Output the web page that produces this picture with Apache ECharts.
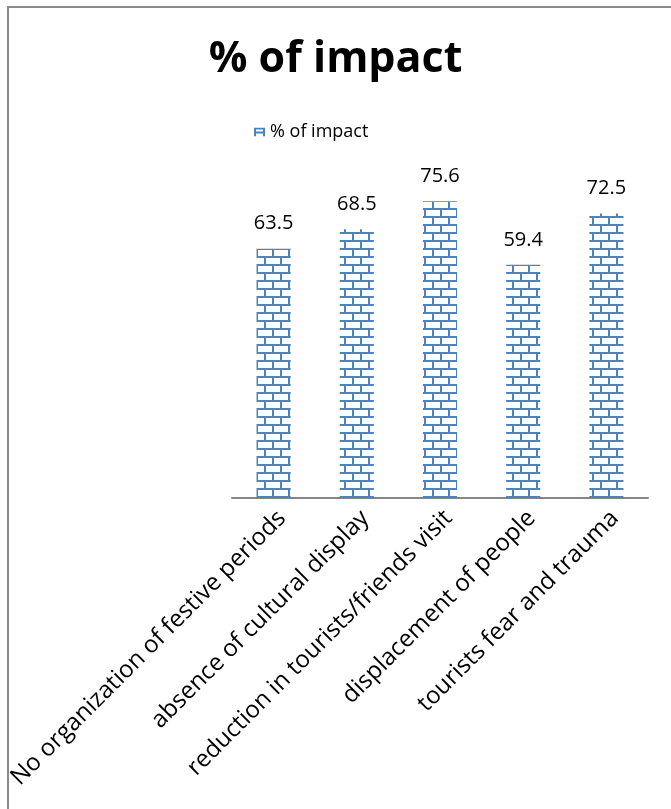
<!DOCTYPE html>
<html>
<head>
<meta charset="utf-8">
<script src="https://cdn.jsdelivr.net/npm/echarts@6/dist/echarts.min.js"></script>
<style>html,body{margin:0;padding:0;background:#fff;}#c{width:671px;height:809px;}</style>
</head>
<body>
<div id="c"></div>
<script>
var categories = ["No organization of festive periods", "absence of cultural display", "reduction in tourists/friends visit", "displacement of people", "tourists fear and trauma"];
var seriesName = "% of impact";
var values = [63.5, 68.5, 75.6, 59.4, 72.5];

function brick() {
  var c = document.createElement('canvas');
  c.width = 16; c.height = 16;
  var g = c.getContext('2d');
  g.fillStyle = '#ffffff'; g.fillRect(0, 0, 16, 16);
  g.fillStyle = '#4F81BD';
  g.fillRect(0, 0, 16, 2);
  g.fillRect(0, 8, 16, 2);
  g.fillRect(8, 2, 2, 6);
  g.fillRect(0, 10, 2, 6);
  return c;
}
function legendBrick() {
  var c = document.createElement('canvas');
  c.width = 11; c.height = 9;
  var g = c.getContext('2d');
  g.fillStyle = '#ffffff'; g.fillRect(0, 0, 11, 9);
  g.fillStyle = '#4F81BD';
  g.fillRect(0, 0, 11, 2);
  g.fillRect(0, 4, 11, 2);
  g.fillRect(0, 0, 2, 9);
  g.fillRect(9, 0, 2, 9);
  return c;
}
var pat = { image: brick(), repeat: 'repeat' };

var chart = echarts.init(document.getElementById('c'), null, { renderer: 'canvas' });
chart.setOption({
  animation: false,
  backgroundColor: '#fff',
  title: {
    text: '% of impact', left: 'center', top: 33,
    textStyle: { fontFamily: 'Open Sans', fontWeight: 'bold', fontSize: 43, color: '#000' }
  },
  legend: {
    top: 118, left: 249,
    itemWidth: 11, itemHeight: 9, itemGap: 6,
    textStyle: { fontFamily: 'Open Sans', fontSize: 18, color: '#000' },
    data: [{ name: seriesName, icon: 'rect', itemStyle: { color: { image: legendBrick(), repeat: 'no-repeat' }, borderWidth: 0 } }]
  },
  grid: { left: 232, right: 23, top: 184, bottom: 311, containLabel: false },
  xAxis: {
    type: 'category', data: categories,
    axisLine: { lineStyle: { color: '#868686', width: 2 } },
    axisTick: { show: false },
    axisLabel: { interval: 0, rotate: 45, margin: 8, verticalAlign: 'top', fontFamily: 'Open Sans', fontSize: 24, color: '#000' }
  },
  yAxis: { type: 'value', min: 0, max: 80, show: false, splitLine: { show: false } },
  series: [{
    name: seriesName, type: 'bar', data: values,
    barWidth: '41%',
    itemStyle: { color: pat },
    label: { show: true, position: 'top', distance: 15, fontFamily: 'Open Sans', fontSize: 20, color: '#000' }
  }],
  graphic: [{
    type: 'rect', shape: { x: 8, y: 7, width: 800, height: 900 },
    style: { fill: null, stroke: '#8a8a8a', lineWidth: 2 }, silent: true
  }]
});
</script>
</body>
</html>
